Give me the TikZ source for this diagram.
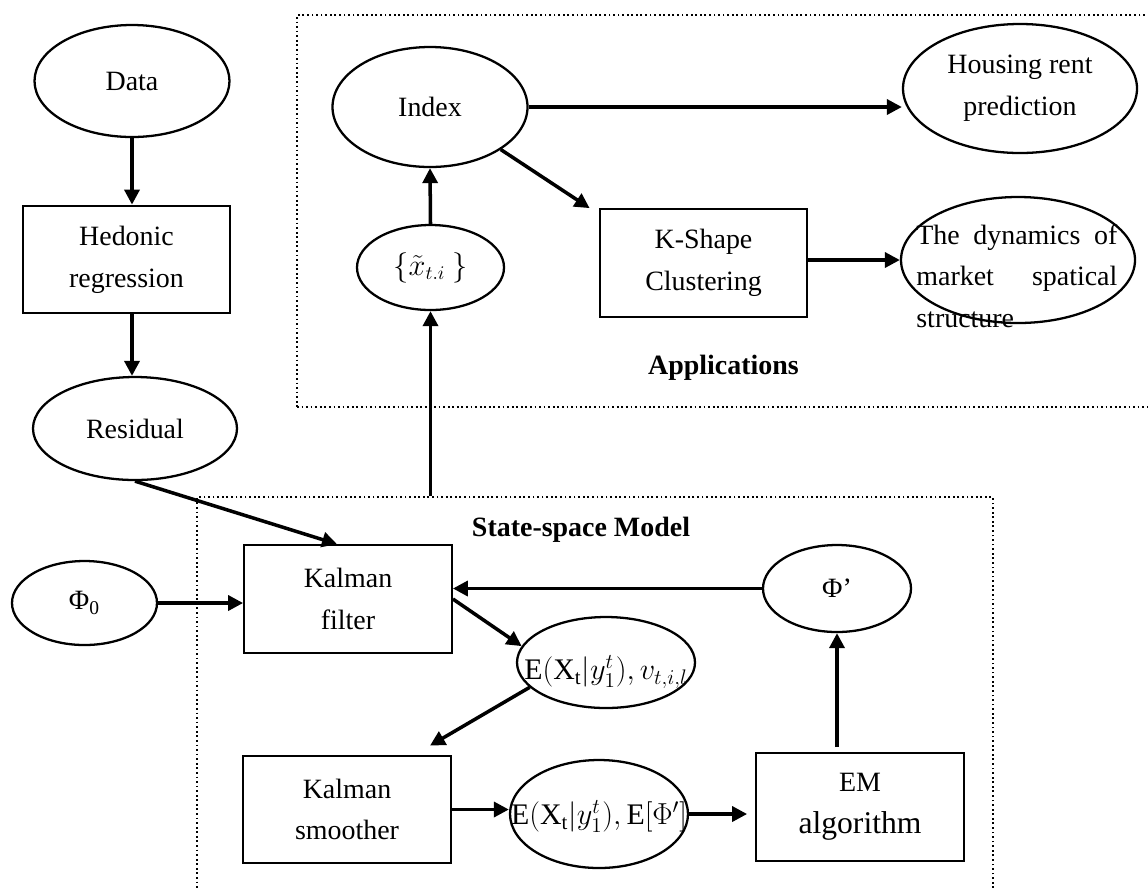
\documentclass[tikz,border=0pt]{standalone}
\usepackage{amsmath,amssymb}
\usepackage{fontspec}
\setmainfont{Liberation Serif}
\usepackage{tikz}
\usetikzlibrary{arrows.meta,positioning,calc,fit,shapes.geometric}

\begin{document}
\begin{tikzpicture}[
    every node/.style={font=\fontsize{15.9}{23.8}\selectfont},
    box/.style={draw, line width=1.3pt, minimum width=4.15cm, minimum height=2.15cm, align=center, inner sep=0pt},
    oval/.style={draw, ellipse, line width=1.3pt, align=center, inner sep=0pt},
    panel/.style={draw, line width=1pt, dash pattern=on 1pt off 1.6pt, inner sep=0pt},
    title/.style={font=\fontsize{15.9}{23.8}\selectfont\bfseries},
    arr/.style={-{Triangle[length=8.5pt, width=8.5pt]}, line width=2pt},
]
    \useasboundingbox (0,0) rectangle (22.96,-17.74);
    \clip (0,0) rectangle (22.96,-17.74);

    % Panels
    \node[panel, minimum width=17.26cm, minimum height=7.84cm] (apps) at (14.57,-4.22) {};
    \node[panel, minimum width=15.92cm, minimum height=8.26cm] (ssm) at (11.9,-14.07) {};
    \node[title] (appstitle) at (14.47,-7.36) {Applications};
    \node[title] (ssmtitle) at (11.62,-10.6) {State-space Model};

    % Inputs
    \node[oval, minimum width=3.9cm, minimum height=2.24cm] (data) at (2.64,-1.62) {Data};
    \node[box] (hedonic) at (2.53,-5.19) {Hedonic\\regression};
    \node[oval, minimum width=4.08cm, minimum height=2.06cm] (resid) at (2.7,-8.57) {Residual};
    \node[oval, minimum width=2.9cm, minimum height=1.68cm] (phi0) at (1.69,-12.06) {Φ\textsubscript{0}};

    % Applications
    \node[oval, minimum width=3.9cm, minimum height=2.4cm] (index) at (8.6,-2.14) {Index};
    \node[oval, minimum width=2.94cm, minimum height=1.7cm] (xt) at (8.61,-5.35) {$\{\tilde{x}_{t.i}\ \}$};
    \node[oval, minimum width=4.68cm, minimum height=2.58cm] (rent) at (20.4,-1.77) {Housing rent\\prediction};
    \node[box] (kshape) at (14.07,-5.26) {K-Shape\\Clustering};
    \node[oval, minimum width=4.68cm, minimum height=2.52cm] (dyn) at (20.36,-5.2) {};
    \node[text width=4.02cm, align=left, anchor=north west, inner sep=0pt] (dyntxt) at (18.32,-4.48)
        {\makebox[4.02cm][s]{The\hfill dynamics\hfill of}\\\makebox[4.02cm][s]{market\hfill spatical}\\structure};

    % State-space model
    \node[box] (kfilter) at (6.96,-11.98) {Kalman\\filter};
    \node[oval, minimum width=2.96cm, minimum height=1.74cm] (phiup) at (16.74,-11.77) {Φ’};
    \node[oval, minimum width=3.56cm, minimum height=1.82cm, font=\fontsize{17}{23.8}\selectfont] (filt) at (12.12,-13.25)
        {\raisebox{-0.34cm}[0pt][0pt]{\makebox[0pt]{$\mathrm{E}(\mathrm{X}_\mathrm{t}|y_1^t), v_{t,i,l}$}}};
    \node[box] (ksmooth) at (6.94,-16.19) {Kalman\\smoother};
    \node[oval, minimum width=3.56cm, minimum height=2.16cm, font=\fontsize{17}{23.8}\selectfont] (smooth) at (11.98,-16.28)
        {\raisebox{-0.21cm}[0pt][0pt]{\makebox[0pt]{$\mathrm{E}(\mathrm{X}_\mathrm{t}|y_1^t), \mathrm{E}[\Phi']$}}};
    \node[box] (em) at (17.2,-16.14) {EM\\{\fontsize{18}{23.8}\selectfont algorithm}};

    % Arrows
    \draw[arr] (data.south) -- (data.south |- hedonic.north);
    \draw[arr] (data.south |- hedonic.south) -- (data.south |- resid.north);
    \draw[arr] (resid.south) -- ([xshift=-0.22cm]kfilter.north);
    \draw[arr] (phi0.east) -- (phi0.east -| kfilter.west);
    \draw[arr] (phiup.west) -- (phiup.west -| kfilter.east);
    \draw[arr] (kfilter.east) -- (filt.169);
    \draw[arr] (filt.198) -- ([xshift=1.66cm, yshift=0.18cm]ksmooth.north);
    \draw[arr] (ksmooth.east) -- (ksmooth.east -| smooth.west);
    \draw[arr, shorten >=0.16cm] (smooth.east) -- (smooth.east -| em.west);
    \draw[arr, shorten <=0.1cm] (phiup |- em.north) -- (phiup.south);
    \draw[arr] (ssm.north -| xt) -- (xt.south);
    \draw[arr] (xt.north) -- (index.south);
    \draw[arr] (index.east) -- (index.east -| rent.west);
    \draw[arr] (index.-31) -- ([xshift=-0.18cm]kshape.north west);
    \draw[arr] (dyn.west -| kshape.east) -- (dyn.west);
\end{tikzpicture}
\end{document}
